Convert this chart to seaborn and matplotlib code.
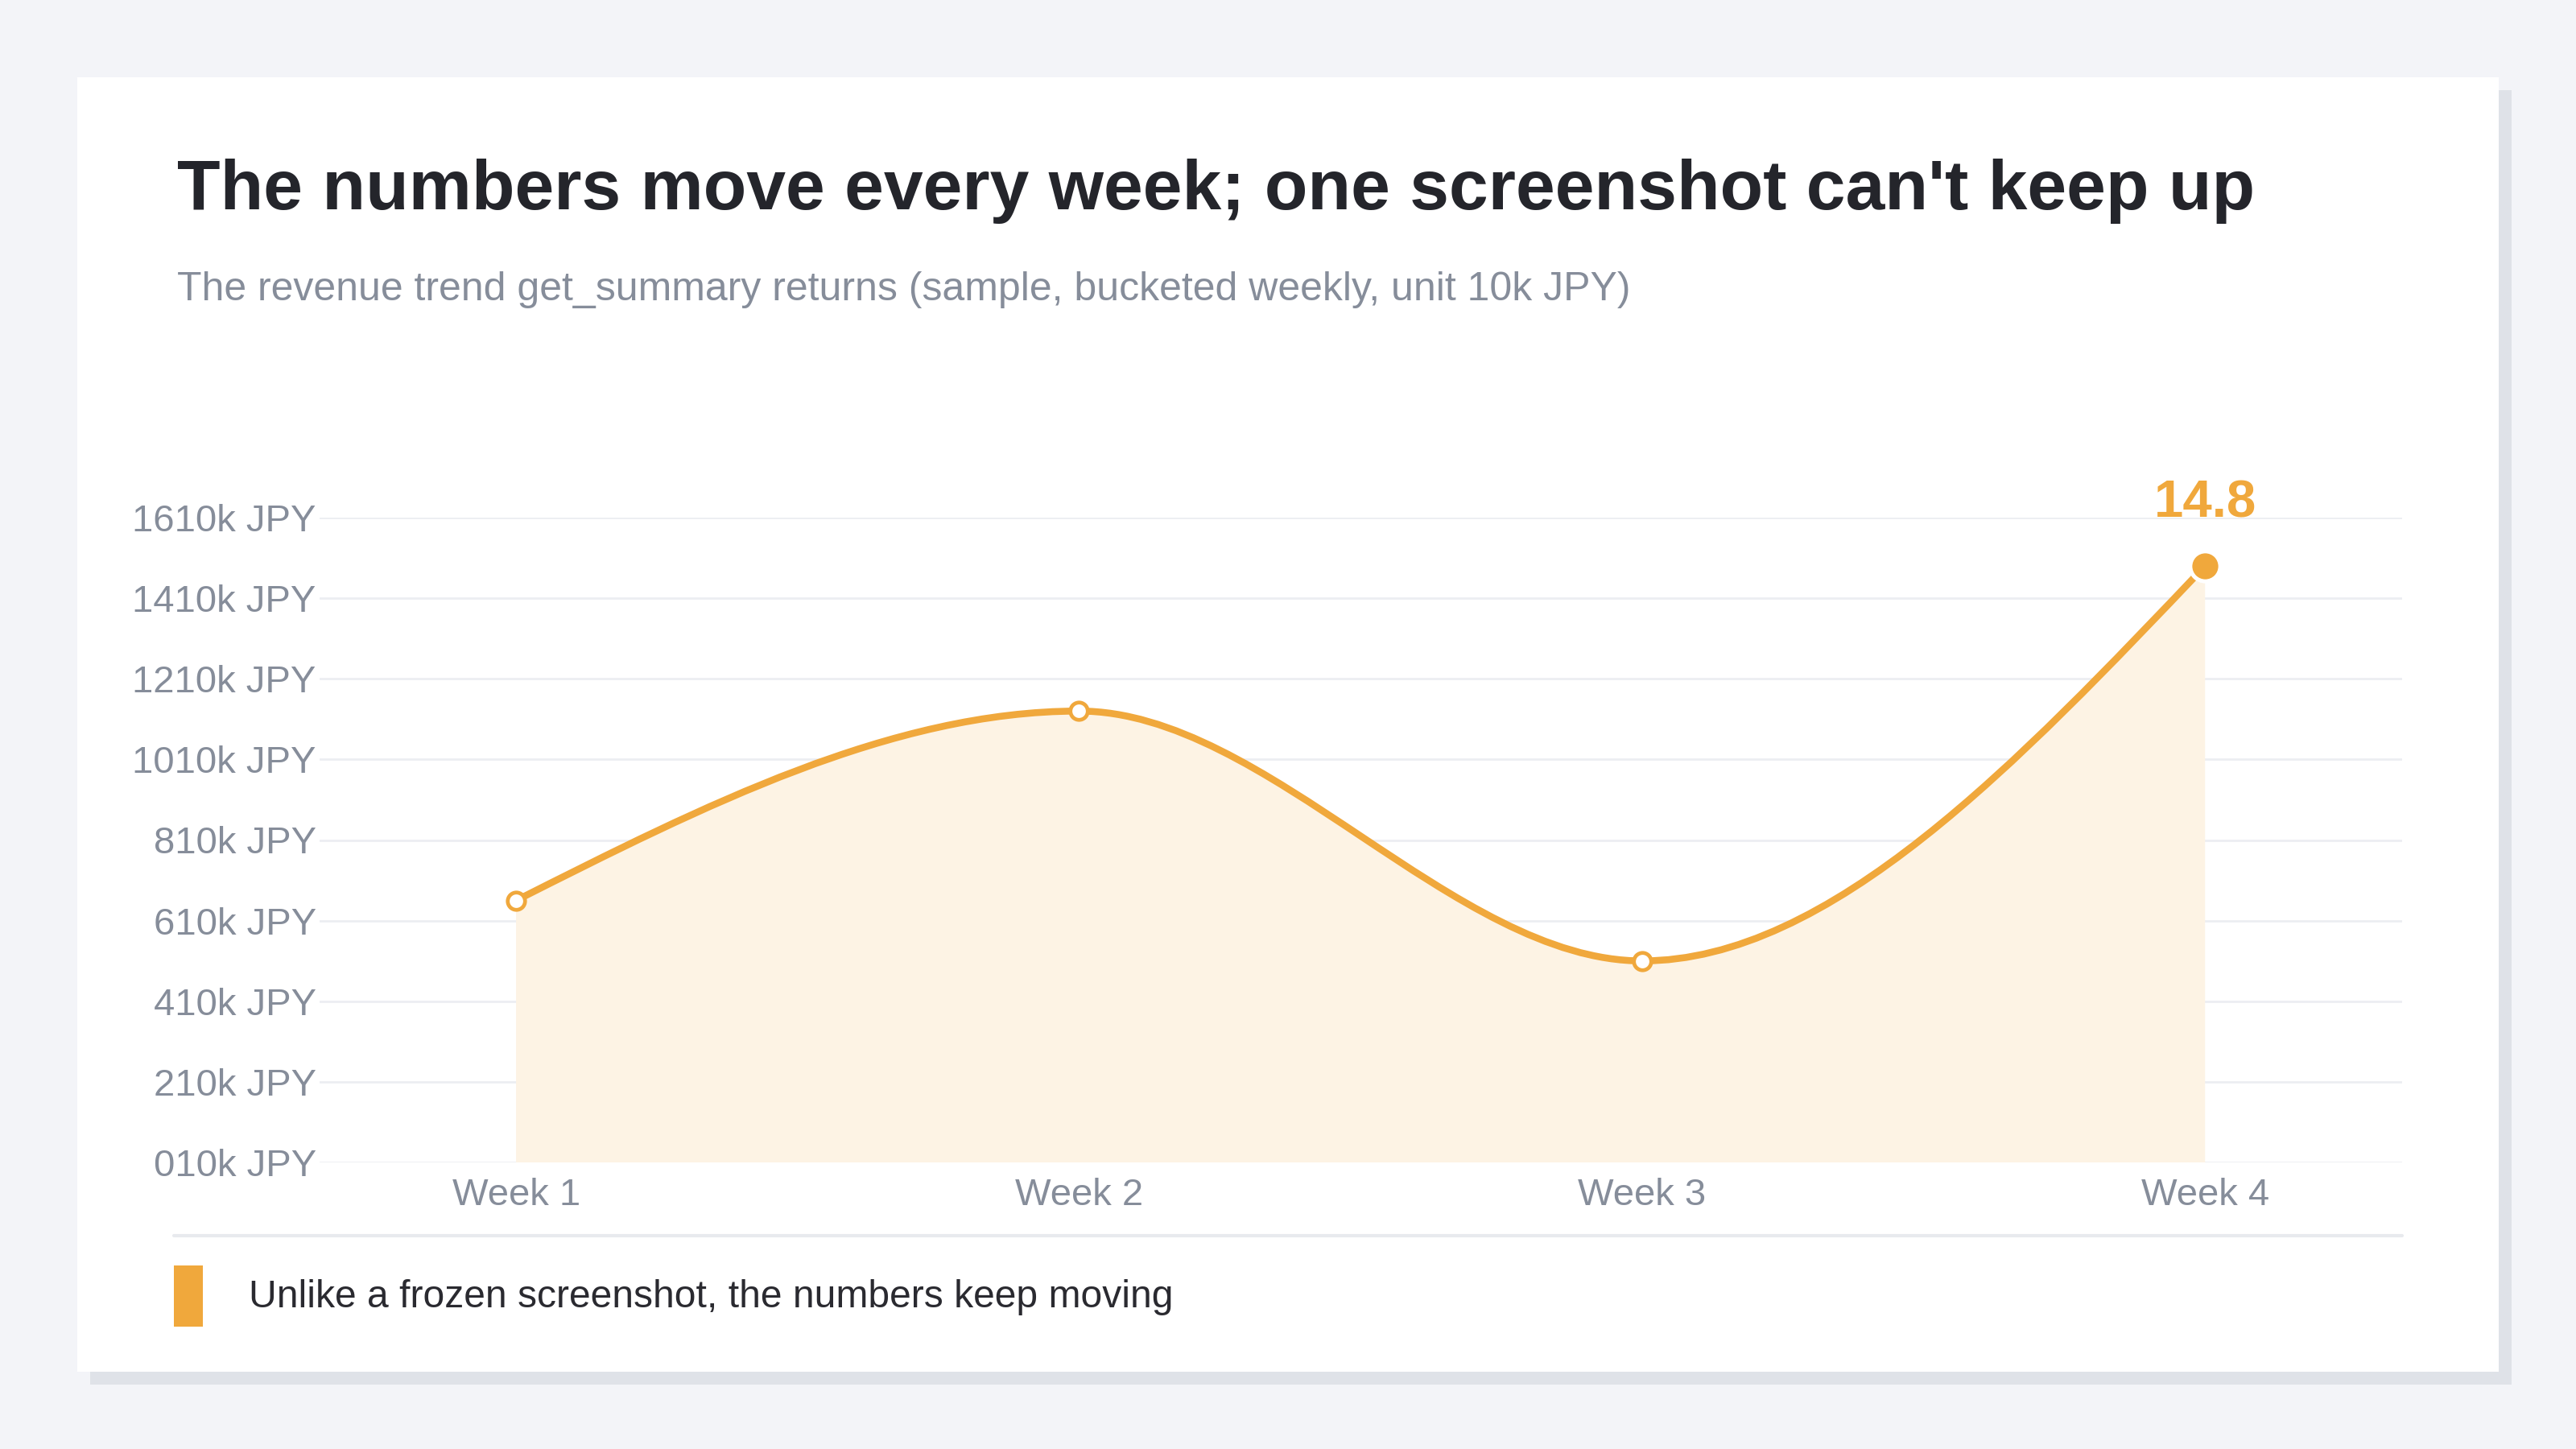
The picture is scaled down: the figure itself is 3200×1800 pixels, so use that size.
import numpy as np
import pandas as pd
import matplotlib
matplotlib.use("Agg")
import matplotlib.pyplot as plt
import seaborn as sns
from matplotlib.path import Path
from matplotlib.patches import PathPatch, Rectangle

# data
weeks = ["Week 1", "Week 2", "Week 3", "Week 4"]
revenue = [6.5, 11.2, 5.0, 14.8]  # unit: 10k JPY
y_ticks = [0, 2, 4, 6, 8, 10, 12, 14, 16]
y_tick_labels = [f"{v}10k JPY" for v in y_ticks]

title = "The numbers move every week; one screenshot can't keep up"
subtitle = "The revenue trend get_summary returns (sample, bucketed weekly, unit 10k JPY)"
legend_text = "Unlike a frozen screenshot, the numbers keep moving"

ORANGE = "#f0a83c"
FILL = "#fdf3e4"
GRAY_TXT = "#868d9a"
DARK = "#24252b"

sns.set_theme(style="white")
plt.rcParams["font.family"] = ["Liberation Sans", "DejaVu Sans"]

df = pd.DataFrame({"week": weeks, "x": np.arange(len(weeks)), "revenue": revenue})

fig = plt.figure(figsize=(16, 9), dpi=200)
fig.patch.set_facecolor("#f3f4f8")

# card + shadow (behind the axes)
fig.patches.append(Rectangle((112 / 3200, 1 - 1720 / 1800), 3008 / 3200, 1608 / 1800,
                             transform=fig.transFigure, facecolor="#dfe2e8", edgecolor="none", zorder=-3))
fig.patches.append(Rectangle((96 / 3200, 1 - 1704 / 1800), 3008 / 3200, 1608 / 1800,
                             transform=fig.transFigure, facecolor="white", edgecolor="none", zorder=-2))

ax = fig.add_axes([397 / 3200, 1 - 1444 / 1800, (2984 - 397) / 3200, (1444 - 643) / 1800])
ax.set_facecolor("none")
ax.set_zorder(2)

# monotone (d3 monotoneX style) bezier through the weekly values
xs = df["x"].to_numpy(dtype=float)
ys = df["revenue"].to_numpy(dtype=float)
sl = np.diff(ys) / np.diff(xs)
tang = np.zeros(len(ys))
for i in range(1, len(ys) - 1):
    if np.sign(sl[i - 1]) == np.sign(sl[i]):
        p = (sl[i - 1] + sl[i]) / 2
        tang[i] = np.sign(sl[i]) * 2 * min(abs(sl[i - 1]), abs(sl[i]), 0.5 * abs(p))
tang[0] = (3 * sl[0] - tang[1]) / 2
tang[-1] = (3 * sl[-1] - tang[-2]) / 2

verts = [(xs[0], ys[0])]
codes = [Path.MOVETO]
for i in range(len(xs) - 1):
    h = xs[i + 1] - xs[i]
    verts += [(xs[i] + h / 3, ys[i] + h * tang[i] / 3),
              (xs[i + 1] - h / 3, ys[i + 1] - h * tang[i + 1] / 3),
              (xs[i + 1], ys[i + 1])]
    codes += [Path.CURVE4] * 3

fill_verts = verts + [(xs[-1], 0), (xs[0], 0), (xs[0], ys[0])]
fill_codes = codes + [Path.LINETO, Path.LINETO, Path.CLOSEPOLY]
ax.add_patch(PathPatch(Path(fill_verts, fill_codes), facecolor=FILL, edgecolor="none", zorder=1))
ax.add_patch(PathPatch(Path(verts, codes), facecolor="none", edgecolor=ORANGE, lw=3.1,
                       capstyle="round", zorder=2))

# markers
sns.scatterplot(data=df.iloc[:-1], x="x", y="revenue", ax=ax, s=60, color="white",
                edgecolor=ORANGE, linewidth=1.7, zorder=3, legend=False)
sns.scatterplot(data=df.iloc[-1:], x="x", y="revenue", ax=ax, s=180, color=ORANGE,
                edgecolor="white", linewidth=1.8, zorder=4, legend=False, clip_on=False)
ax.annotate(f"{revenue[-1]}", (xs[-1], ys[-1]), xytext=(0, 17), textcoords="offset points",
            ha="center", va="bottom", fontsize=23.5, fontweight="bold", color=ORANGE,
            annotation_clip=False)

ax.set_xlim(-0.349, 3.35)
ax.set_ylim(0, 16)
ax.set_xticks(xs)
ax.set_xticklabels(weeks)
ax.set_yticks(y_ticks)
ax.set_yticklabels(y_tick_labels)
ax.tick_params(axis="both", length=0, labelsize=17, labelcolor=GRAY_TXT)
ax.tick_params(axis="x", pad=7)
ax.tick_params(axis="y", pad=1.5)
ax.grid(axis="y", color="#eceef2", lw=1.0)
ax.grid(axis="x", visible=False)
ax.set_axisbelow(True)
for s in ax.spines.values():
    s.set_visible(False)
ax.set_xlabel("")
ax.set_ylabel("")

# header
fig.text(220 / 3200, 1 - 260 / 1800, title, fontsize=31.6, fontweight="bold", color=DARK,
         ha="left", va="baseline")
fig.text(220 / 3200, 1 - 373 / 1800, subtitle, fontsize=18, color=GRAY_TXT,
         ha="left", va="baseline")

# separator + legend
fig.add_artist(plt.Line2D([216 / 3200, 2984 / 3200], [1 - 1535 / 1800] * 2,
                          transform=fig.transFigure, color="#e8eaee", lw=1.5))
fig.patches.append(Rectangle((216 / 3200, 1 - 1648 / 1800), 36 / 3200, 76 / 1800,
                             transform=fig.transFigure, facecolor=ORANGE, edgecolor="none"))
fig.text(309 / 3200, 1 - 1612 / 1800, legend_text, fontsize=17.3, color="#2a2a30",
         ha="left", va="center")

fig.savefig("out.png", dpi=200, facecolor=fig.get_facecolor())
